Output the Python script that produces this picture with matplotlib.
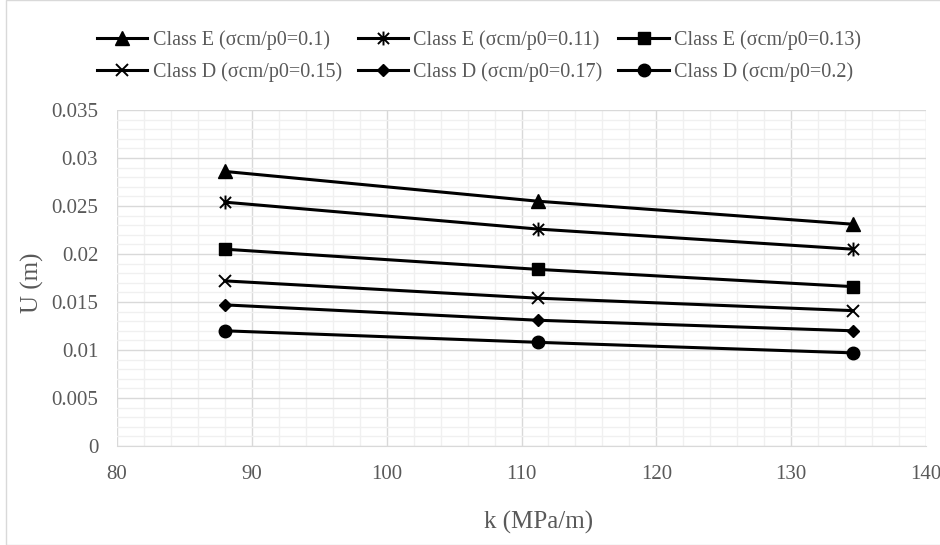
import matplotlib
matplotlib.use("Agg")
import matplotlib.pyplot as plt
from matplotlib.ticker import MultipleLocator
from matplotlib.patches import Rectangle
from matplotlib.path import Path

k_values = [88.0, 111.2, 134.6]
labels = [
    "Class E (σcm/p0=0.1)",
    "Class E (σcm/p0=0.11)",
    "Class E (σcm/p0=0.13)",
    "Class D (σcm/p0=0.15)",
    "Class D (σcm/p0=0.17)",
    "Class D (σcm/p0=0.2)",
]
u_e_010 = [0.0286, 0.0255, 0.0231]
u_e_011 = [0.0254, 0.0226, 0.0205]
u_e_013 = [0.0205, 0.0184, 0.0166]
u_d_015 = [0.0172, 0.0154, 0.0141]
u_d_017 = [0.0147, 0.0131, 0.0120]
u_d_020 = [0.0120, 0.0108, 0.0097]
series = [u_e_010, u_e_011, u_e_013, u_d_015, u_d_017, u_d_020]

asterisk = Path([(-1, -1), (1, 1), (-1, 1), (1, -1), (0, -1.25), (0, 1.25)],
                [Path.MOVETO, Path.LINETO, Path.MOVETO, Path.LINETO,
                 Path.MOVETO, Path.LINETO])
markers = ["^", asterisk, "s", "x", "D", "o"]
msizes = [9.5, 10, 8.5, 9, 6.5, 9]

plt.rcParams['font.family'] = ['Liberation Serif', 'DejaVu Serif']
text_color = "#595959"

fig = plt.figure(figsize=(9.4, 5.45), dpi=100)
ax = fig.add_axes([117/940, 1 - 446/545, (926-117)/940, (446-110)/545])

handles = []
for vals, lab, m, ms in zip(series, labels, markers, msizes):
    thin = (m is asterisk) or (m == "x")
    h, = ax.plot(k_values, vals, color="black", linewidth=2.2, marker=m,
                 markersize=ms, markeredgewidth=1.4 if thin else 1,
                 markerfacecolor="black", markeredgecolor="black", label=lab, zorder=3)
    handles.append(h)

ax.set_xlim(80, 140)
ax.set_ylim(0, 0.035)
ax.xaxis.set_major_locator(MultipleLocator(10))
ax.xaxis.set_minor_locator(MultipleLocator(2))
ax.yaxis.set_major_locator(MultipleLocator(0.005))
ax.yaxis.set_minor_locator(MultipleLocator(0.001))
ax.grid(which="major", color="#d9d9d9", linewidth=1.0, zorder=0)
ax.grid(which="minor", color="#f0f0f0", linewidth=1.0, zorder=0)
ax.set_axisbelow(True)
for s in ax.spines.values():
    s.set_visible(False)
ax.spines['bottom'].set_visible(True)
ax.spines['bottom'].set_color("#d9d9d9")
ax.tick_params(which="both", length=0, colors=text_color, labelsize=15)
ax.tick_params(axis="x", pad=14)
ax.tick_params(axis="y", pad=13.5)
ax.set_yticks([0, 0.005, 0.01, 0.015, 0.02, 0.025, 0.03, 0.035])
ax.set_yticklabels(["0", "0.005", "0.01", "0.015", "0.02", "0.025", "0.03", "0.035"])
ax.set_xticks([80, 90, 100, 110, 120, 130, 140])
ax.set_xticklabels(["80", "90", "100", "110", "120", "130", "140"])

fig.text(539/940, 1 - 522/545, "k (MPa/m)", ha="center", va="center",
         fontsize=18, color=text_color)
fig.text(32/940, 1 - 283/545, "U (m)", ha="center", va="center",
         rotation=90, fontsize=18, color=text_color)

order = [0, 3, 1, 4, 2, 5]
leg = fig.legend(handles=[handles[i] for i in order],
                 labels=[labels[i] for i in order],
                 loc="center left", bbox_to_anchor=(79/940, 1 - 56.5/545),
                 ncol=3, frameon=False, fontsize=14.5, handlelength=2.5,
                 columnspacing=0.8, handletextpad=0.25, labelspacing=0.6,
                 labelcolor=text_color)

fig.patches.append(Rectangle((6/940, 0), 1, 1.0, transform=fig.transFigure,
                             fill=False, edgecolor="#d9d9d9", linewidth=1.0))

fig.savefig("out.png", dpi=100)
